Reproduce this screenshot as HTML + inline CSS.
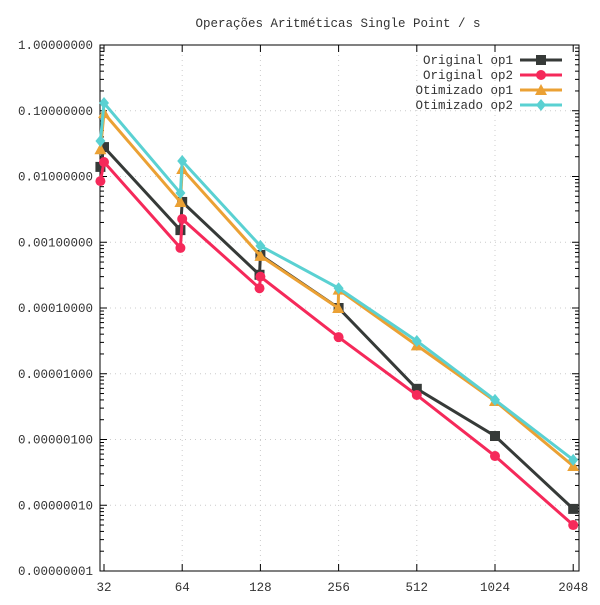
<!DOCTYPE html>
<html><head><meta charset="utf-8"><style>
body{margin:0;background:#fff}
svg text{font-family:"Liberation Mono",monospace;font-size:12.5px;fill:#333}
</style></head><body>
<svg id="chart" width="600" height="600">
<text x="338" y="27" text-anchor="middle">Operações Aritméticas Single Point / s</text>
<g id="grid"></g><g id="axes"></g><g id="series"></g><g id="legend"></g>
</svg>
<script>
const xTicks=[32,64,128,256,512,1024,2048];
const yTicks=[1,0.1,0.01,0.001,1e-4,1e-5,1e-6,1e-7,1e-8];
const seriesNames=["Original op1","Original op2","Otimizado op1","Otimizado op2"];
const op1OrigX=[31,32,63,64,127,128,256,512,1024,2048];
const op1OrigY=[0.014,0.028,0.00153,0.0041,3.2e-4,6.4e-4,1e-4,5.9e-6,1.13e-6,8.8e-8];
const op2OrigX=[31,32,63,64,127,128,256,512,1024,2048];
const op2OrigY=[0.0085,0.0166,8.2e-4,0.00226,2.0e-4,3.0e-4,3.6e-5,4.75e-6,5.6e-7,5e-8];
const op1OptX=[31,32,63,64,128,255,256,512,1024,2048];
const op1OptY=[0.026,0.092,0.0041,0.013,6.2e-4,1e-4,1.9e-4,2.7e-5,3.85e-6,3.95e-7];
const op2OptX=[31,32,63,64,128,256,512,1024,2048];
const op2OptY=[0.0347,0.131,0.0056,0.0172,8.8e-4,2.0e-4,3.15e-5,4e-6,4.9e-7];
const colors=["#363a38","#f5295a","#eba134","#5ad1d2"];
const L=100,R=579,T=45,B=571;
const sx=v=>104+Math.log2(v/32)*78.2;
const sy=v=>T+(-Math.log10(v))*(B-T)/8;
const NS="http://www.w3.org/2000/svg";
function mk(tag,attrs,parent){const e=document.createElementNS(NS,tag);for(const k in attrs)e.setAttribute(k,attrs[k]);parent.appendChild(e);return e;}
const grid=document.getElementById('grid'),axes=document.getElementById('axes');
yTicks.forEach(v=>{const y=sy(v);
 if(v<1&&v>1e-8){const g=mk('line',{x1:L,x2:R,y1:y,y2:y,stroke:'#ccc','stroke-dasharray':'1,4'},grid);
 }
 const t=mk('text',{x:93,y:y+4,'text-anchor':'end'},axes);t.textContent=v.toFixed(8);
 
 mk('line',{x1:L,x2:L+7,y1:y,y2:y,stroke:'#000'},axes);mk('line',{x1:R,x2:R-7,y1:y,y2:y,stroke:'#000'},axes);
 if(v>1e-8)for(let m=2;m<10;m++){const yy=sy(v/10*m);mk('line',{x1:L,x2:L+4,y1:yy,y2:yy,stroke:'#000'},axes);mk('line',{x1:R,x2:R-4,y1:yy,y2:yy,stroke:'#000'},axes);}
});
xTicks.forEach(v=>{const x=sx(v);
 if(v>32&&v<2048){const g=mk('line',{x1:x,x2:x,y1:T,y2:B,stroke:'#ccc','stroke-dasharray':'1,4'},grid);
 }
 const t=mk('text',{x:x,y:B+20,'text-anchor':'middle'},axes);t.textContent=v;
 
 mk('line',{x1:x,x2:x,y1:B,y2:B-7,stroke:'#000'},axes);mk('line',{x1:x,x2:x,y1:T,y2:T+7,stroke:'#000'},axes);
});
const fr=mk('rect',{x:L,y:T,width:R-L,height:B-T,fill:'none',stroke:'#000'},axes);

function marker(i,x,y,p){
 if(i===0)return mk('rect',{x:x-5,y:y-5,width:10,height:10,fill:colors[i]},p);
 if(i===1)return mk('circle',{cx:x,cy:y,r:5,fill:colors[i]},p);
 if(i===2)return mk('polygon',{points:`${x},${y-6} ${x+6},${y+5} ${x-6},${y+5}`,fill:colors[i]},p);
 return mk('polygon',{points:`${x},${y-6} ${x+5},${y} ${x},${y+6} ${x-5},${y}`,fill:colors[i]},p);
}
const sg=document.getElementById('series');
const all=[[op1OrigX,op1OrigY],[op2OrigX,op2OrigY],[op1OptX,op1OptY],[op2OptX,op2OptY]];
all.forEach(([xs,ys],i)=>{
 const g=mk('g',{},sg);
 const pl=mk('polyline',{points:xs.map((x,k)=>sx(x)+','+sy(ys[k])).join(' '),fill:'none',stroke:colors[i],'stroke-width':3},g);
 
 xs.forEach((x,k)=>{const m=marker(i,sx(x),sy(ys[k]),g);});
});
const lg=document.getElementById('legend');
seriesNames.forEach((n,i)=>{const y=60+i*15;
 const g=mk('g',{},lg);
 const t=mk('text',{x:513,y:y+4,'text-anchor':'end'},g);t.textContent=n;
 mk('line',{x1:520,x2:562,y1:y,y2:y,stroke:colors[i],'stroke-width':3},g);marker(i,541,y,g);
});
</script>
</body></html>
